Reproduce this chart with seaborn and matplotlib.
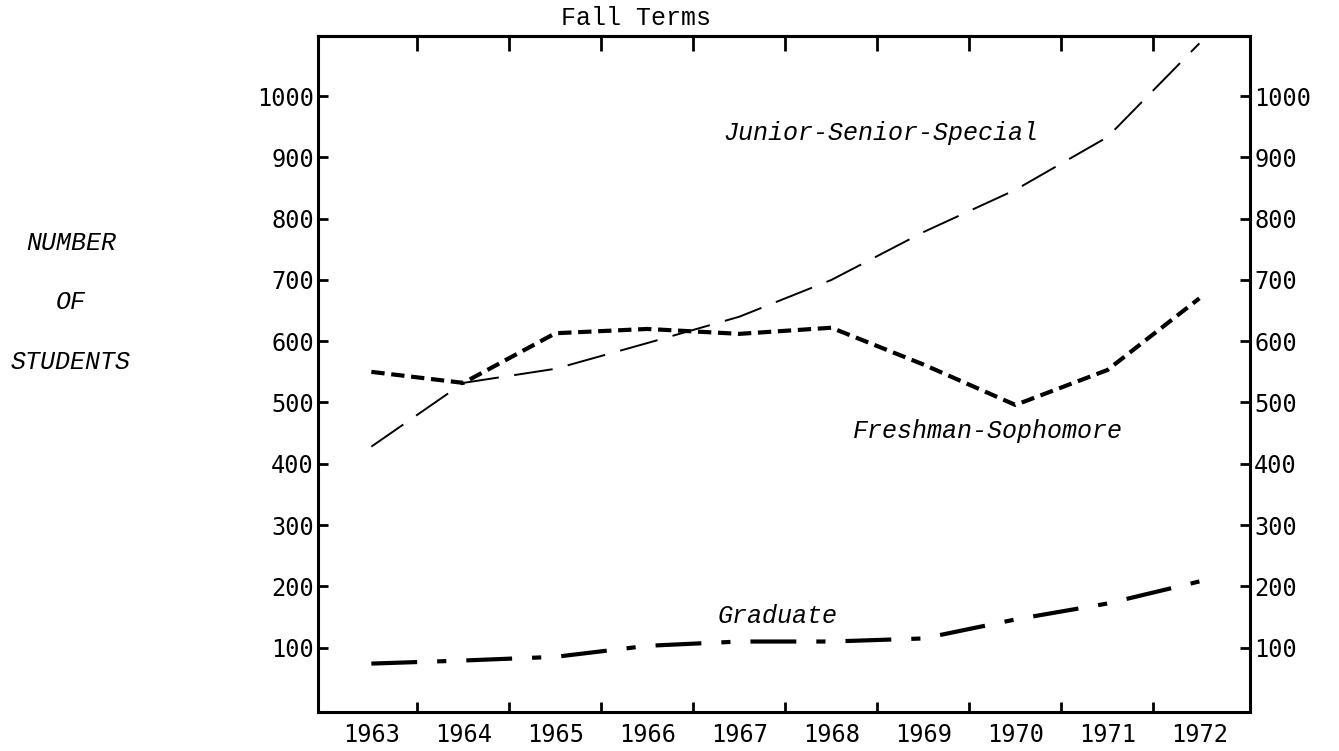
import matplotlib
matplotlib.use("Agg")
import matplotlib.pyplot as plt
import seaborn as sns
import pandas as pd

# --- datos (Fall Terms) ---
anios = [1963, 1964, 1965, 1966, 1967, 1968, 1969, 1970, 1971, 1972]
junior_senior = [428, 532, 555, 597, 640, 700, 778, 847, 933, 1086]
freshman_soph = [550, 532, 613, 620, 612, 622, 562, 496, 553, 670]
graduate = [74, 79, 85, 103, 110, 110, 115, 146, 172, 208]
yticks = [100, 200, 300, 400, 500, 600, 700, 800, 900, 1000]

sns.set_style("white")
plt.rcParams.update({"text.color": "black", "xtick.color": "black",
                     "ytick.color": "black", "axes.edgecolor": "black"})
mono = "DejaVu Sans Mono"
typewriter = "Liberation Mono"

fig = plt.figure(figsize=(13.39, 7.51), dpi=100)
ax = fig.add_axes([318 / 1339, 1 - 712 / 751, (1250 - 318) / 1339, (712 - 36) / 751])

df = pd.DataFrame({"anio": anios, "js": junior_senior, "fs": freshman_soph, "gr": graduate})

# Junior-Senior-Special: linea fina, guiones largos
sns.lineplot(data=df, x="anio", y="js", ax=ax, color="black", lw=1.4,
             linestyle=(0, (20, 8)))
# Freshman-Sophomore: linea gruesa, guiones cortos
sns.lineplot(data=df, x="anio", y="fs", ax=ax, color="black", lw=3.0,
             linestyle=(0, (3.2, 1.6)))
# Graduate: raya-punto grueso
sns.lineplot(data=df, x="anio", y="gr", ax=ax, color="black", lw=3.0,
             linestyle=(0, (11, 4.8, 2.2, 4.8)))

ax.set_xlim(1962.42, 1972.55)
ax.set_ylim(-5, 1098)
ax.set_xlabel("")
ax.set_ylabel("")

for s in ax.spines.values():
    s.set_visible(True)
    s.set_linewidth(2.2)
    s.set_color("black")

separadores = [a + 0.5 for a in anios[:-1]]

ax.set_xticks(anios)
ax.set_xticklabels([str(a) for a in anios], family=mono, fontsize=17)
ax.set_xticks(separadores, minor=True)
ax.tick_params(axis="x", which="major", length=0, pad=8)
ax.tick_params(axis="x", which="minor", direction="in", length=7, width=2,
               top=False, bottom=True)

# marcas de arriba (algo mas largas)
arriba = ax.secondary_xaxis("top")
arriba.set_xticks(separadores)
arriba.set_xticklabels([])
arriba.tick_params(direction="in", length=11, width=2)
arriba.spines["top"].set_linewidth(2.2)

ax.set_yticks(yticks)
ax.set_yticklabels([str(v) for v in yticks], family=mono, fontsize=17)
ax.tick_params(axis="y", which="major", direction="in", length=7, width=2,
               left=True, right=True, labelleft=True, labelright=True, pad=3)

# etiquetas de las series
ax.text(1966.82, 940, "Junior-Senior-Special", family=typewriter, style="italic",
        fontsize=18, ha="left", va="center")
ax.text(1968.23, 453, "Freshman-Sophomore", family=typewriter, style="italic",
        fontsize=18, ha="left", va="center")
ax.text(1966.76, 152, "Graduate", family=typewriter, style="italic",
        fontsize=18, ha="left", va="center")

fig.text(636 / 1339, 1 - 18 / 751, "Fall Terms", family=typewriter, fontsize=18,
         ha="center", va="center")

for txt, ypx in [("NUMBER", 243), ("OF", 302), ("STUDENTS", 362)]:
    fig.text(71 / 1339, 1 - ypx / 751, txt, family=typewriter, style="italic",
             fontsize=18, ha="center", va="center")

fig.savefig("out.png", dpi=100, facecolor="white")
